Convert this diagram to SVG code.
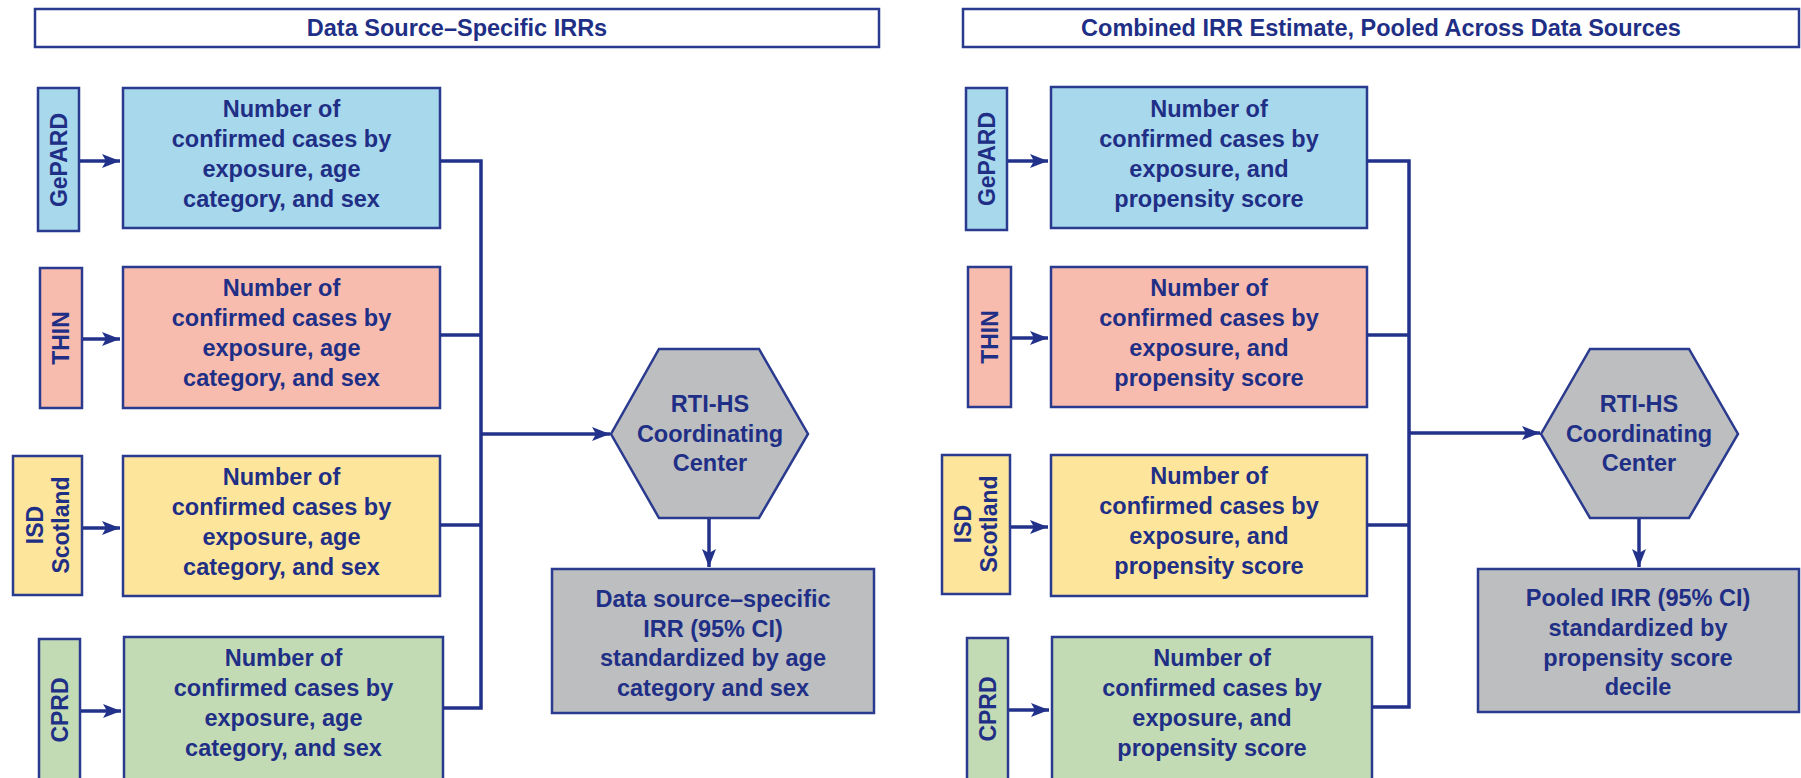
<svg xmlns="http://www.w3.org/2000/svg" width="1801" height="778" viewBox="0 0 1801 778">
<defs>
<marker id="ah" viewBox="0 0 18 14" refX="18" refY="7" markerWidth="18" markerHeight="14" markerUnits="userSpaceOnUse" orient="auto">
<path d="M0,0 L18,7 L0,14 L4,7 z" fill="#22328a"/>
</marker>
<style>
.t{font-family:"Liberation Sans",Arial,sans-serif;font-weight:bold;fill:#1f2f86;text-anchor:middle}
.m{font-size:23.5px}
.l{font-size:23px}
.h{font-size:23.5px}
.box{stroke:#2a3a8e;stroke-width:2.5}
.blue{fill:#a8d8ec}.pink{fill:#f8bcae}.yel{fill:#fde59b}.grn{fill:#c3dbb5}.gry{fill:#bcbec0}
.ttl{fill:#ffffff;stroke:#2a3a8e;stroke-width:2.5}
.c{fill:none;stroke:#22328a;stroke-width:3.5}
.a{fill:none;stroke:#22328a;stroke-width:3.5;marker-end:url(#ah)}
</style>
</defs>

<!-- Titles -->
<g id="title-left">
<rect class="ttl" x="35" y="9" width="844" height="38"/>
<text class="t h" x="457" y="36">Data Source–Specific IRRs</text>
</g>
<g id="title-right">
<rect class="ttl" x="963" y="9" width="836" height="38"/>
<text class="t h" x="1381" y="36">Combined IRR Estimate, Pooled Across Data Sources</text>
</g>

<!-- Left panel labels -->
<g id="L-lab-gepard"><rect class="box blue" x="38" y="88" width="41" height="143"/>
<text class="t l" transform="translate(58.5,160) rotate(-90)" y="8">GePARD</text></g>
<g id="L-lab-thin"><rect class="box pink" x="40" y="268" width="42" height="140"/>
<text class="t l" transform="translate(61,338) rotate(-90)" y="8">THIN</text></g>
<g id="L-lab-isd"><rect class="box yel" x="13" y="456" width="69" height="139"/>
<text class="t l" transform="translate(47.5,525) rotate(-90)"><tspan x="0" y="-5">ISD</tspan><tspan x="0" y="21">Scotland</tspan></text></g>
<g id="L-lab-cprd"><rect class="box grn" x="39" y="639" width="41" height="142"/>
<text class="t l" transform="translate(59.5,710) rotate(-90)" y="8">CPRD</text></g>

<!-- Left panel main boxes -->
<g id="L-gepard"><rect class="box blue" x="123" y="88" width="317" height="140"/>
<text class="t m"><tspan x="281.5" y="117">Number of</tspan><tspan x="281.5" y="147">confirmed cases by</tspan><tspan x="281.5" y="177">exposure, age</tspan><tspan x="281.5" y="207">category, and sex</tspan></text></g>
<g id="L-thin"><rect class="box pink" x="123" y="267" width="317" height="141"/>
<text class="t m"><tspan x="281.5" y="296">Number of</tspan><tspan x="281.5" y="326">confirmed cases by</tspan><tspan x="281.5" y="356">exposure, age</tspan><tspan x="281.5" y="386">category, and sex</tspan></text></g>
<g id="L-isd"><rect class="box yel" x="123" y="456" width="317" height="140"/>
<text class="t m"><tspan x="281.5" y="485">Number of</tspan><tspan x="281.5" y="515">confirmed cases by</tspan><tspan x="281.5" y="545">exposure, age</tspan><tspan x="281.5" y="575">category, and sex</tspan></text></g>
<g id="L-cprd"><rect class="box grn" x="124" y="637" width="319" height="145"/>
<text class="t m"><tspan x="283.5" y="666">Number of</tspan><tspan x="283.5" y="696">confirmed cases by</tspan><tspan x="283.5" y="726">exposure, age</tspan><tspan x="283.5" y="756">category, and sex</tspan></text></g>

<g id="L-hub"><polygon class="box gry" points="659,349 759,349 808,434 759,518 659,518 611,434"/>
<text class="t m"><tspan x="710" y="412">RTI-HS</tspan><tspan x="710" y="442">Coordinating</tspan><tspan x="710" y="471">Center</tspan></text></g>
<g id="L-result"><rect class="box gry" x="552" y="569" width="322" height="144"/>
<text class="t m"><tspan x="713" y="607">Data source–specific</tspan><tspan x="713" y="637">IRR (95% CI)</tspan><tspan x="713" y="666">standardized by age</tspan><tspan x="713" y="696">category and sex</tspan></text></g>

<!-- Right panel labels -->
<g id="R-lab-gepard"><rect class="box blue" x="966" y="88" width="41" height="142"/>
<text class="t l" transform="translate(986.5,159) rotate(-90)" y="8">GePARD</text></g>
<g id="R-lab-thin"><rect class="box pink" x="968" y="267" width="43" height="140"/>
<text class="t l" transform="translate(989.5,337) rotate(-90)" y="8">THIN</text></g>
<g id="R-lab-isd"><rect class="box yel" x="942" y="455" width="68" height="139"/>
<text class="t l" transform="translate(976,524) rotate(-90)"><tspan x="0" y="-5">ISD</tspan><tspan x="0" y="21">Scotland</tspan></text></g>
<g id="R-lab-cprd"><rect class="box grn" x="967" y="638" width="41" height="143"/>
<text class="t l" transform="translate(987.5,709) rotate(-90)" y="8">CPRD</text></g>

<!-- Right panel main boxes -->
<g id="R-gepard"><rect class="box blue" x="1051" y="87" width="316" height="141"/>
<text class="t m"><tspan x="1209" y="117">Number of</tspan><tspan x="1209" y="147">confirmed cases by</tspan><tspan x="1209" y="177">exposure, and</tspan><tspan x="1209" y="207">propensity score</tspan></text></g>
<g id="R-thin"><rect class="box pink" x="1051" y="267" width="316" height="140"/>
<text class="t m"><tspan x="1209" y="296">Number of</tspan><tspan x="1209" y="326">confirmed cases by</tspan><tspan x="1209" y="356">exposure, and</tspan><tspan x="1209" y="386">propensity score</tspan></text></g>
<g id="R-isd"><rect class="box yel" x="1051" y="455" width="316" height="141"/>
<text class="t m"><tspan x="1209" y="484">Number of</tspan><tspan x="1209" y="514">confirmed cases by</tspan><tspan x="1209" y="544">exposure, and</tspan><tspan x="1209" y="574">propensity score</tspan></text></g>
<g id="R-cprd"><rect class="box grn" x="1052" y="637" width="320" height="145"/>
<text class="t m"><tspan x="1212" y="666">Number of</tspan><tspan x="1212" y="696">confirmed cases by</tspan><tspan x="1212" y="726">exposure, and</tspan><tspan x="1212" y="756">propensity score</tspan></text></g>

<g id="R-hub"><polygon class="box gry" points="1590,349 1689,349 1738,434 1689,518 1590,518 1541,434"/>
<text class="t m"><tspan x="1639" y="412">RTI-HS</tspan><tspan x="1639" y="442">Coordinating</tspan><tspan x="1639" y="471">Center</tspan></text></g>
<g id="R-result"><rect class="box gry" x="1478" y="569" width="321" height="143"/>
<text class="t m"><tspan x="1638" y="606">Pooled IRR (95% CI)</tspan><tspan x="1638" y="636">standardized by</tspan><tspan x="1638" y="666">propensity score</tspan><tspan x="1638" y="695">decile</tspan></text></g>

<!-- Connectors -->
<g id="connectors">
<line class="a" x1="80" y1="161" x2="120" y2="161"/>
<line class="a" x1="83" y1="339" x2="120" y2="339"/>
<line class="a" x1="83" y1="528" x2="120" y2="528"/>
<line class="a" x1="81" y1="711" x2="121" y2="711"/>
<polyline class="c" points="440,161 481,161 481,708 443,708"/>
<line class="c" x1="440" y1="335" x2="481" y2="335"/>
<line class="c" x1="440" y1="525" x2="481" y2="525"/>
<line class="a" x1="481" y1="434" x2="610" y2="434"/>
<line class="a" x1="709" y1="519" x2="709" y2="567"/>

<line class="a" x1="1008" y1="161" x2="1048" y2="161"/>
<line class="a" x1="1012" y1="338" x2="1048" y2="338"/>
<line class="a" x1="1011" y1="527" x2="1048" y2="527"/>
<line class="a" x1="1009" y1="710" x2="1049" y2="710"/>
<polyline class="c" points="1367,161 1409,161 1409,707 1372,707"/>
<line class="c" x1="1367" y1="335" x2="1409" y2="335"/>
<line class="c" x1="1367" y1="525" x2="1409" y2="525"/>
<line class="a" x1="1409" y1="433" x2="1540" y2="433"/>
<line class="a" x1="1639" y1="519" x2="1639" y2="567"/>
</g>
</svg>
